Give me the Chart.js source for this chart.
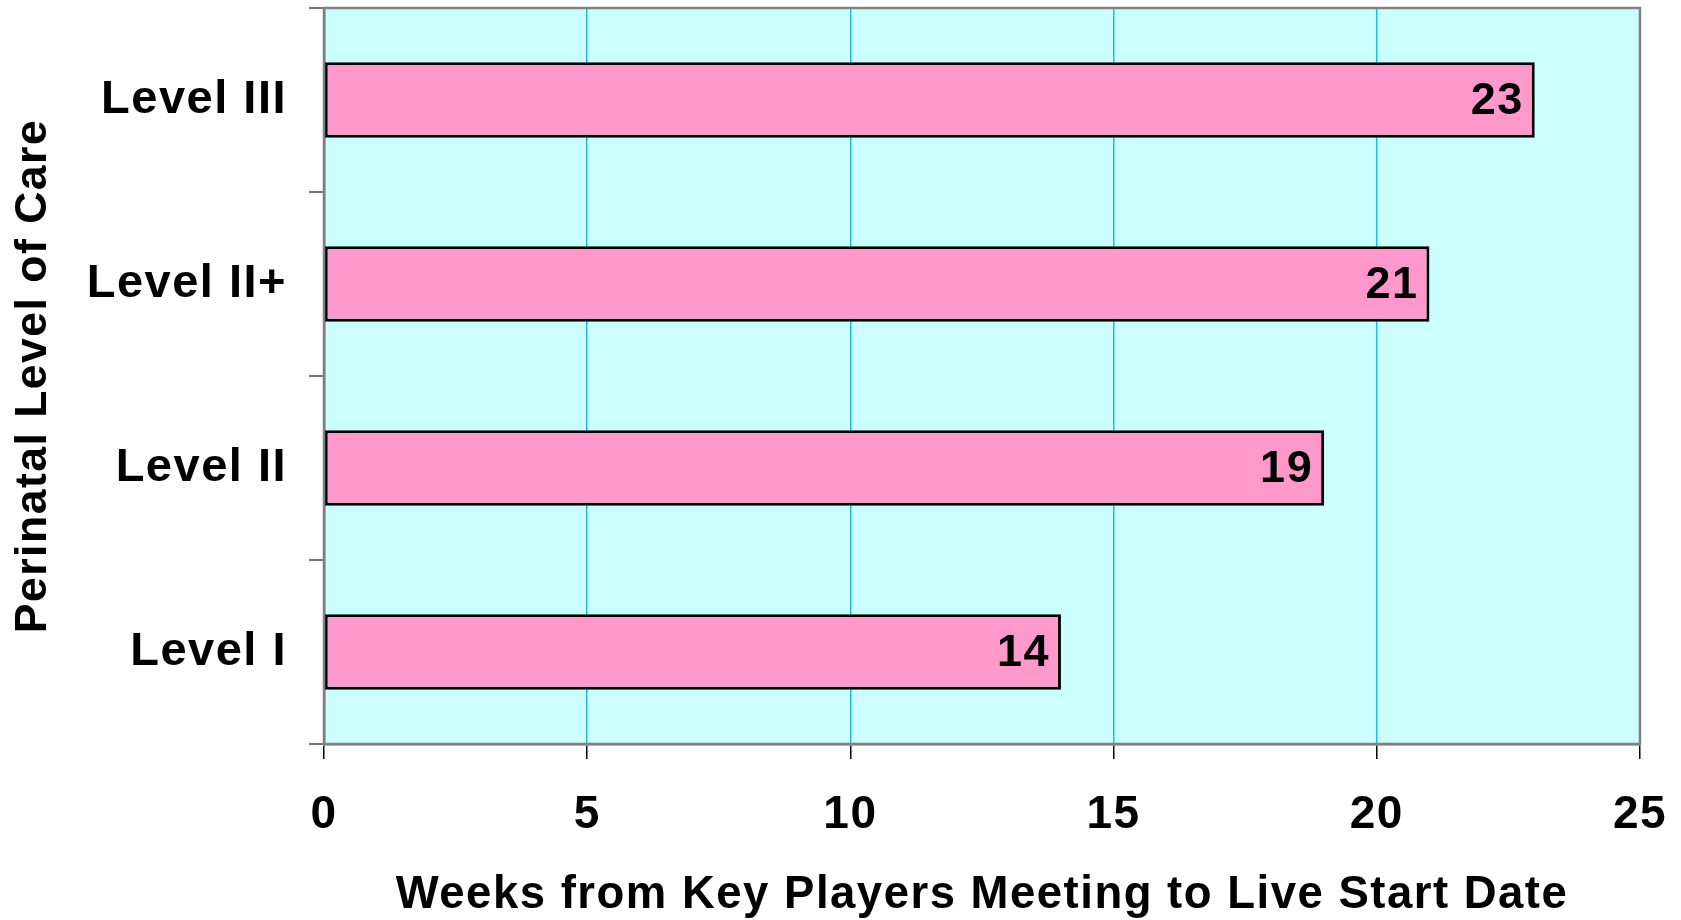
<!DOCTYPE html>
<html>
<head>
<meta charset="utf-8">
<script src="https://cdn.jsdelivr.net/npm/chart.js@4.4.1/dist/chart.umd.min.js"></script>
<style>
  html, body { margin: 0; padding: 0; background: #fff; }
  #wrap { width: 1681px; height: 920px; }
</style>
</head>
<body>
<div id="wrap"><canvas id="chart" width="1681" height="920"></canvas></div>
<script>
// DATA
const levels = ['Level III', 'Level II+', 'Level II', 'Level I'];
const weeks = [23, 21, 19, 14];
const xTicks = [0, 5, 10, 15, 20, 25];

const FONT = 'Liberation Sans, Arial, Helvetica, sans-serif';

// plot background + gray frame
const plotFrame = {
    id: 'plotFrame',
    beforeInit(chart) {
        chart.ctx.letterSpacing = '1.5px';
    },
    beforeDraw(chart) {
        const { ctx, chartArea: a } = chart;
        ctx.letterSpacing = '1.5px';
        ctx.save();
        ctx.fillStyle = '#ccffff';
        ctx.fillRect(a.left, a.top, a.right - a.left, a.bottom - a.top);
        ctx.restore();
    },
    afterDraw(chart) {
        const { ctx, chartArea: a } = chart;
        ctx.save();
        ctx.strokeStyle = '#808080';
        ctx.lineWidth = 2.5;
        ctx.strokeRect(a.left, a.top, a.right - a.left, a.bottom - a.top);
        ctx.restore();
    }
};

// value labels inside bar ends
const barLabels = {
    id: 'barLabels',
    afterDatasetsDraw(chart) {
        const { ctx } = chart;
        const meta = chart.getDatasetMeta(0);
        ctx.save();
        ctx.font = `bold 45px ${FONT}`;
        ctx.fillStyle = '#000';
        ctx.textAlign = 'right';
        ctx.textBaseline = 'middle';
        meta.data.forEach((bar, i) => {
            ctx.fillText(String(weeks[i]), bar.x - 11, bar.y + 2);
        });
        ctx.restore();
    }
};

new Chart(document.getElementById('chart'), {
    type: 'bar',
    data: {
        labels: levels,
        datasets: [{
            data: weeks,
            backgroundColor: '#ff99cc',
            borderColor: '#000',
            borderWidth: 3,
            borderSkipped: false,
            categoryPercentage: 1,
            barPercentage: 0.41
        }]
    },
    options: {
        indexAxis: 'y',
        responsive: false,
        animation: false,
        layout: { padding: { top: 8, right: 41, left: 0, bottom: 0 } },
        plugins: { legend: { display: false }, tooltip: { enabled: false } },
        scales: {
            x: {
                min: 0, max: 25,
                afterBuildTicks: (s) => { s.ticks = xTicks.map(v => ({ value: v })); },
                afterFit: (s) => { s.height = 176; s.paddingLeft = 0; s.paddingRight = 0; },
                grid: { color: '#1ec0dc', lineWidth: 1.5, tickColor: '#000', tickLength: 15, drawTicks: true },
                border: { color: '#808080', width: 2.5 },
                ticks: { color: '#000', padding: 29, font: { family: FONT, size: 46, weight: 'bold' }, maxRotation: 0 },
                title: {
                    display: true,
                    text: 'Weeks from Key Players Meeting to Live Start Date',
                    color: '#000',
                    font: { family: FONT, size: 45.5, weight: 'bold', lineHeight: 1.1 },
                    padding: { top: 0, bottom: 0 }
                }
            },
            y: {
                afterFit: (s) => { s.width = 324; s.paddingTop = 0; s.paddingBottom = 0; },
                grid: { drawOnChartArea: false, tickColor: '#777', tickLength: 15, lineWidth: 2, offset: true },
                border: { color: '#808080', width: 2.5 },
                ticks: { color: '#000', padding: 22, font: { family: FONT, size: 47, weight: 'bold' } },
                title: {
                    display: true,
                    text: 'Perinatal Level of Care',
                    color: '#000',
                    font: { family: FONT, size: 44.5, weight: 'bold' },
                    padding: { top: 7, bottom: 0 }
                }
            }
        }
    },
    plugins: [plotFrame, barLabels]
});
</script>
</body>
</html>
